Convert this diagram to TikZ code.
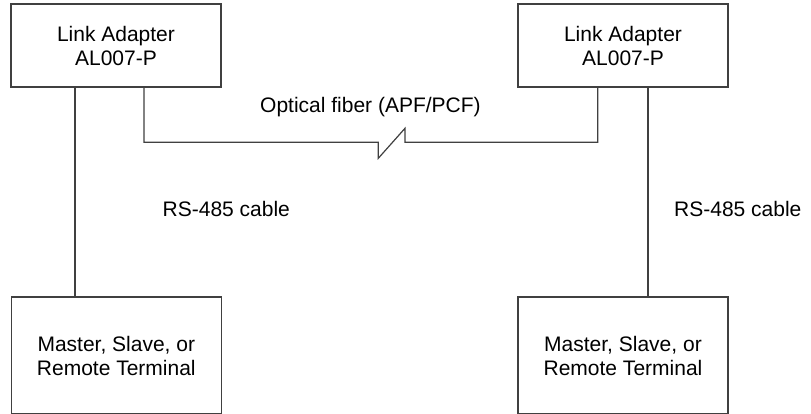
\documentclass[tikz,border=0pt]{standalone}
\usepackage{fontspec}
\setmainfont{Liberation Sans}
\begin{document}
\begin{tikzpicture}[x=1pt,y=-1pt,
  every node/.style={font=\fontsize{21}{24}\selectfont, text=black},
  unitbox/.style={draw=black!75, line width=1.2pt, rectangle, inner sep=0pt,
    minimum width=210pt, align=center},
  topbox/.style={unitbox, minimum height=83pt},
  botbox/.style={unitbox, minimum height=117pt},
  wire/.style={draw=black!75, line width=1.2pt},
  lbl/.style={anchor=base west, inner sep=0pt}]
\useasboundingbox (0,0) rectangle (811,414);
\clip (0,0) rectangle (811,414);
\fill[white] (0,0) rectangle (811,414);
% boxes
\node[topbox] (la1) at (116,45.5) {Link Adapter\\AL007-P};
\node[topbox] (la2) at (623,45.5) {Link Adapter\\AL007-P};
\node[botbox] (t1) at (116.3,355.5) {Master, Slave, or\\Remote Terminal};
\node[botbox] (t2) at (623,355.5) {Master, Slave, or\\Remote Terminal};
% labels
\node[lbl] (fib) at (260,112.3) {Optical fiber (APF/PCF)};
\node[lbl] (rs1) at (162.5,216.7) {RS-485 cable};
\node[lbl] (rs2) at (674,216.7) {RS-485 cable};
% RS-485 connectors
\draw[wire] ([xshift=-41pt]la1.south) -- ([xshift=-41pt]la1.south |- t1.north);
\draw[wire] ([xshift=25pt]la2.south) -- ([xshift=25pt]la2.south |- t2.north);
% optical fiber with break
\coordinate (fy) at (0,142.3);
\coordinate (b1) at (378.3,158.3);
\coordinate (b2) at (405,128.3);
\draw[wire, line join=miter] ([xshift=28pt]la1.south) |- (b1 |- fy) -- (b1) -- (b2) -- (b2 |- fy) -| ([xshift=-25.3pt]la2.south);
\end{tikzpicture}
\end{document}
